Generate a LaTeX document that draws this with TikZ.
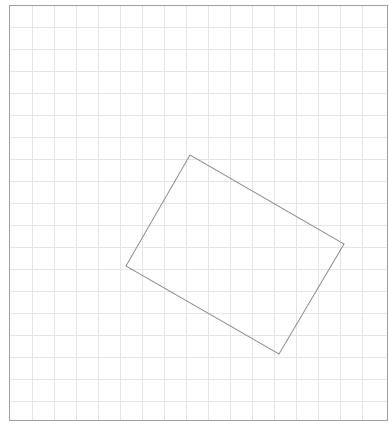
\documentclass[tikz,border=0pt]{standalone}
\usepackage{tikz}

\tikzset{
    gridline/.style={gray!20, line width=0.4pt},
    sheet/.style={draw=gray!75, line width=0.9pt},
    tile/.style={draw=gray!85, line width=0.9pt}
}

\begin{document}
\begin{tikzpicture}[x=1pt, y=-1pt]
    \useasboundingbox (0,0) rectangle (389,424);

    % paper grid
    \foreach \gx in {0,...,15} {
        \draw[gridline] (32+22*\gx,5) -- (32+22*\gx,420);
    }
    \foreach \gy in {0,...,17} {
        \draw[gridline] (9,27+22*\gy) -- (387,27+22*\gy);
    }
    \coordinate (TL) at (9,5);
    \coordinate (BR) at (387,420);
    \draw[sheet] (TL) rectangle (BR);

    % tilted rectangle
    \coordinate (top) at (190,155);
    \coordinate (right) at (344,244);
    \coordinate (bottom) at (279,354);
    \coordinate (left) at (126,266);

    \draw[tile] (top) -- (right) -- (bottom) -- (left) -- cycle;
\end{tikzpicture}
\end{document}
